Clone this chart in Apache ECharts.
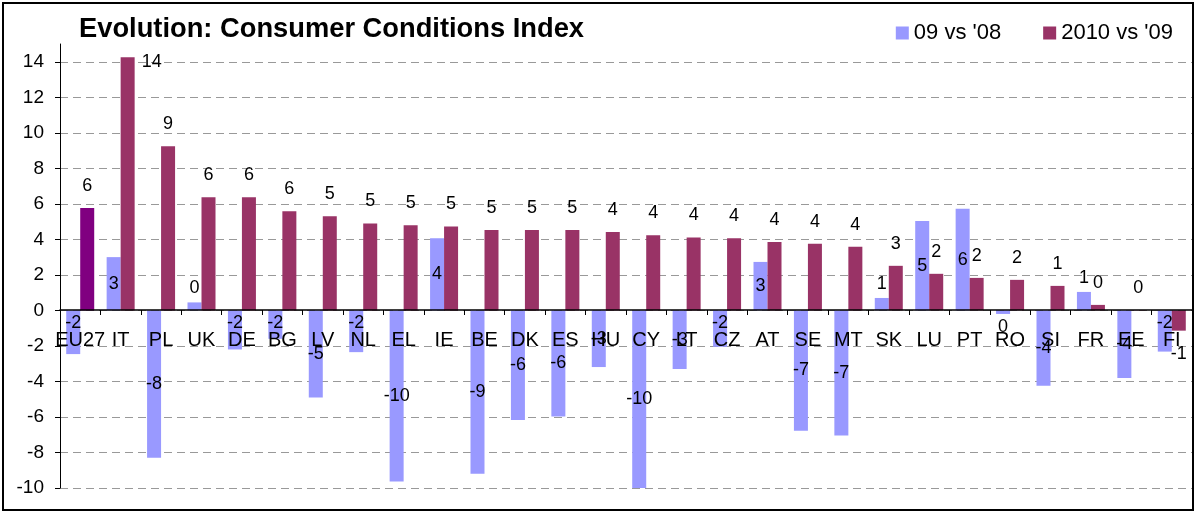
<!DOCTYPE html>
<html>
<head>
<meta charset="utf-8">
<script src="https://cdn.jsdelivr.net/npm/echarts@6/dist/echarts.min.js"></script>
<style>
  html, body { margin: 0; padding: 0; background: #fff; }
  #chart { width: 1194px; height: 513px; }
  .frame {
    position: absolute;
    left: 2px; top: 2px;
    width: 1188px; height: 505px;
    border: 2px solid #000;
    pointer-events: none;
  }
</style>
</head>
<body>
<div id="chart"></div>
<div class="frame"></div>
<script>
  const countries = ['EU27', 'IT', 'PL', 'UK', 'DE', 'BG', 'LV', 'NL', 'EL', 'IE', 'BE', 'DK', 'ES', 'HU',
    'CY', 'LT', 'CZ', 'AT', 'SE', 'MT', 'SK', 'LU', 'PT', 'RO', 'SI', 'FR', 'EE', 'FI']
  const vs08 = [-2.46, 3.0, -8.3, 0.45, -2.2, -1.6, -4.9, -2.35, -9.64, 4.06, -9.2, -6.17, -5.98, -3.19,
    -10.04, -3.3, -2.05, 2.73, -6.77, -7.05, 0.7, 5.04, 5.72, -0.2, -4.24, 1.04, -3.81, -2.32]
  const vs09 = [5.77, 14.25, 9.24, 6.37, 6.37, 5.58, 5.3, 4.9, 4.79, 4.73, 4.52, 4.52, 4.52, 4.42,
    4.23, 4.11, 4.06, 3.85, 3.75, 3.58, 2.51, 2.06, 1.83, 1.72, 1.38, 0.31, 0.02, -1.14]
  const yTicks = { min: -10, max: 15, step: 2 }

  const blue = '#9999ff'
  const wine = '#993366'
  const eu = '#800080'

  const chart = echarts.init(document.getElementById('chart'))

  const fmt = p => String(Math.round(p.value) || 0)

  // small blue bars get their label outside / near the axis, like Excel does
  const blueData = vs08.map(v => {
    if (v > 0 && v < 1.5) return { value: v, label: { position: 'top', distance: 5 } }
    if (v < 0 && v > -1) return { value: v, label: { position: 'bottom', distance: 4 } }
    if (v <= -1 && v > -3) return { value: v, label: { position: 'insideTop', distance: 4 } }
    return v
  })

  const wineData = vs09.map((v, i) => {
    const item = { value: v }
    if (i === 0) item.itemStyle = { color: eu }
    if (countries[i] === 'IT') item.label = { position: [21, -4] }
    if (v < 0) item.label = { position: 'bottom', distance: 14 }
    return item
  })

  const option = {
    animation: false,
    textStyle: { fontFamily: 'Liberation Sans, Arial, sans-serif' },
    title: {
      text: 'Evolution: Consumer Conditions Index',
      left: 74,
      top: 11,
      textStyle: { fontSize: 27.3, fontWeight: 'bold', color: '#000' }
    },
    legend: {
      right: 16,
      top: 17,
      itemWidth: 13,
      itemHeight: 13,
      itemGap: 42,
      icon: 'rect',
      textStyle: { fontSize: 22, color: '#000' },
      data: ["09 vs '08", "2010 vs '09"]
    },
    grid: { left: 60, right: 2, top: 44, bottom: 25, outerBoundsMode: 'none' },
    xAxis: {
      type: 'category',
      data: countries,
      z: 5,
      offset: -178,
      axisLine: { onZero: false, lineStyle: { color: '#000', width: 1.5 } },
      axisTick: { show: true, length: 5, lineStyle: { color: '#000' } },
      axisLabel: { interval: 0, margin: 20, fontSize: 20, color: '#000' }
    },
    yAxis: {
      type: 'value',
      min: yTicks.min,
      max: yTicks.max,
      interval: yTicks.step,
      axisLine: { show: true, lineStyle: { color: '#000', width: 1 } },
      axisTick: { show: true, length: 5, lineStyle: { color: '#000' } },
      axisLabel: { fontSize: 19, color: '#000', margin: 16, showMaxLabel: false },
      splitLine: { showMaxLine: false, lineStyle: { color: '#999', type: [8, 5], width: 1 } }
    },
    series: [
      {
        name: "09 vs '08",
        type: 'bar',
        data: blueData,
        barWidth: 14,
        barGap: '0%',
        itemStyle: { color: blue },
        label: { show: true, position: 'inside', fontSize: 18, color: '#000', formatter: fmt }
      },
      {
        name: "2010 vs '09",
        type: 'bar',
        data: wineData,
        barWidth: 14,
        barGap: '0%',
        itemStyle: { color: wine },
        label: { show: true, position: 'top', distance: 13, fontSize: 18, color: '#000', formatter: fmt }
      }
    ]
  }

  chart.setOption(option)
</script>
</body>
</html>
